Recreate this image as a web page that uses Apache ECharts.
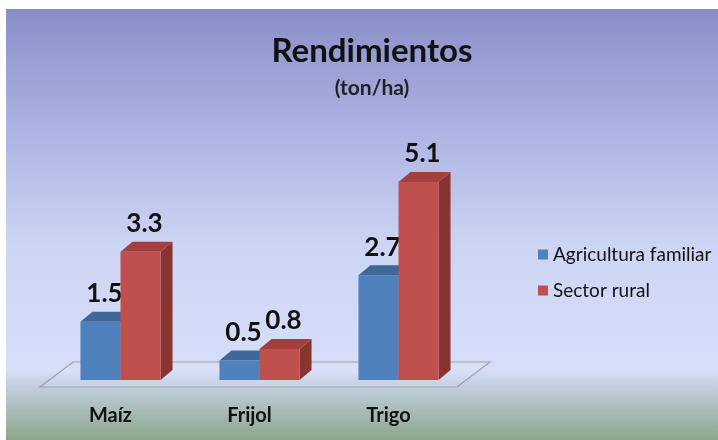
<!DOCTYPE html>
<html>
<head>
<meta charset="utf-8">
<script src="https://cdn.jsdelivr.net/npm/echarts@6/dist/echarts.min.js"></script>
<style>
html, body { margin: 0; padding: 0; background: #fff; }
#chart { width: 718px; height: 440px; }
</style>
</head>
<body>
<div id="chart"></div>
<script>
var categories = ['Maíz', 'Frijol', 'Trigo'];
var familiar = [1.5, 0.5, 2.7];
var rural = [3.3, 0.8, 5.1];
var seriesNames = ['Agricultura familiar', 'Sector rural'];

var chart = echarts.init(document.getElementById('chart'));

// barra 3D: frente, tapa, costado + etiqueta
function bar3d(side, front, top, flank) {
  return function (params, api) {
    var idx = api.value(0);
    var val = api.value(1);
    var p = api.coord([idx, val]);
    var base = api.coord([idx, 0]);
    var w = api.size([1, 0])[0] * 0.288;
    var dx = 12, dy = -10;
    var x0 = side < 0 ? p[0] - w : p[0];
    var x1 = x0 + w;
    var yTop = p[1], yBot = base[1];
    return {
      type: 'group',
      children: [
        { type: 'polygon', shape: { points: [[x1, yBot], [x1 + dx, yBot + dy], [x1 + dx, yTop + dy], [x1, yTop]] }, style: { fill: flank } },
        { type: 'rect', shape: { x: x0, y: yTop, width: w, height: yBot - yTop }, style: { fill: front } },
        { type: 'polygon', shape: { points: [[x0, yTop], [x0 + dx, yTop + dy], [x1 + dx, yTop + dy], [x1, yTop]] }, style: { fill: top } },
        { type: 'text', style: { text: String(val), x: x0 + w / 2 + 4, y: yTop - 15, align: 'center', verticalAlign: 'bottom', font: 'bold 26px Lato', fill: '#111' } }
      ]
    };
  };
}

// piso en perspectiva
function floor(params, api) {
  var cs = params.coordSys;
  var y0 = api.coord([0, 0])[1];
  var l = cs.x, r = cs.x + cs.width;
  return {
    type: 'polygon',
    shape: { points: [[l - 11, y0 + 7], [r - 11, y0 + 7], [r + 22, y0 - 18], [l + 22, y0 - 18]] },
    style: { fill: 'rgba(225,232,250,0.15)', stroke: '#a0a0a8', lineWidth: 1.2 }
  };
}

chart.setOption({
  animation: false,
  graphic: [{
    type: 'rect', z: -10, silent: true,
    shape: { x: 6, y: 9, width: 712, height: 431 },
    style: {
      fill: new echarts.graphic.LinearGradient(0, 0, 0, 1, [
        { offset: 0, color: '#8a8ec7' },
        { offset: 0.25, color: '#a9afe0' },
        { offset: 0.55, color: '#cdd5f4' },
        { offset: 0.84, color: '#d6defa' },
        { offset: 0.86, color: '#c9d3e8' },
        { offset: 1, color: '#8ca68a' }
      ])
    }
  }],
  title: {
    text: 'Rendimientos',
    subtext: '(ton/ha)',
    left: 367,
    textAlign: 'center',
    top: 30,
    itemGap: 10,
    textStyle: { fontFamily: 'Lato', fontWeight: 'bold', fontSize: 33, color: '#111' },
    subtextStyle: { fontFamily: 'Lato', fontWeight: 'bold', fontSize: 21, color: '#222' }
  },
  legend: {
    data: seriesNames,
    orient: 'vertical',
    left: 538,
    top: 245,
    padding: 0,
    itemGap: 17,
    itemWidth: 10,
    itemHeight: 10,
    itemStyle: { borderWidth: 0 },
    icon: 'rect',
    textStyle: { fontFamily: 'Lato', fontSize: 19, color: '#111' }
  },
  grid: { left: 51, top: 147, width: 417, height: 233 },
  xAxis: {
    type: 'category',
    data: categories,
    axisLine: { show: false },
    axisTick: { show: false },
    axisLabel: { margin: 26, padding: [0, 20, 0, 0], fontFamily: 'Lato', fontWeight: 'bold', fontSize: 20, color: '#111' }
  },
  yAxis: { type: 'value', min: 0, max: 6, show: false, splitLine: { show: false } },
  series: [
    { type: 'custom', name: 'piso', z: 1, clip: false, renderItem: floor, data: [[0, 0]] },
    {
      type: 'custom', name: seriesNames[0], z: 2, clip: false,
      itemStyle: { color: '#4f81bd' },
      renderItem: bar3d(-1, '#4f81bd', '#3d6897', '#34587f'),
      data: familiar.map(function (v, i) { return [i, v]; })
    },
    {
      type: 'custom', name: seriesNames[1], z: 3, clip: false,
      itemStyle: { color: '#c0504d' },
      renderItem: bar3d(1, '#c0504d', '#a3403d', '#8a3431'),
      data: rural.map(function (v, i) { return [i, v]; })
    }
  ]
});
</script>
</body>
</html>
